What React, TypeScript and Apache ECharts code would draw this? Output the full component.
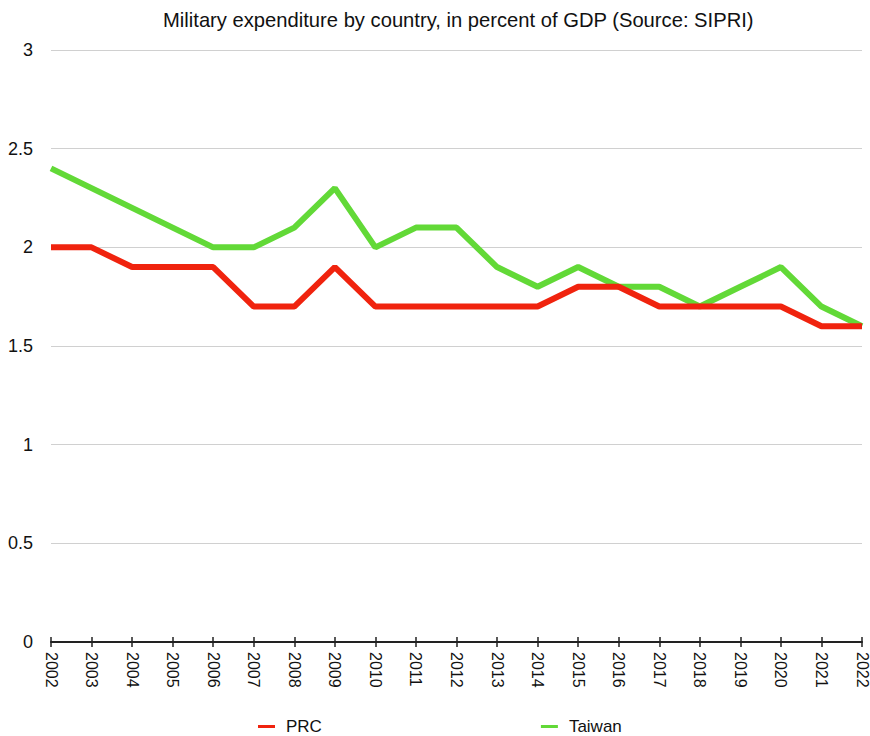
import React, { useEffect, useRef } from "react";
import * as echarts from "echarts";

const years = ["2002","2003","2004","2005","2006","2007","2008","2009","2010","2011","2012","2013","2014","2015","2016","2017","2018","2019","2020","2021","2022"];
const prc = [2.0,2.0,1.9,1.9,1.9,1.7,1.7,1.9,1.7,1.7,1.7,1.7,1.7,1.8,1.8,1.7,1.7,1.7,1.7,1.6,1.6];
const taiwan = [2.4,2.3,2.2,2.1,2.0,2.0,2.1,2.3,2.0,2.1,2.1,1.9,1.8,1.9,1.8,1.8,1.7,1.8,1.9,1.7,1.6];

const FONT = "Liberation Sans, Arial, Helvetica, sans-serif";

export default function App() {
  const ref = useRef<HTMLDivElement>(null);
  useEffect(() => {
    const chart = echarts.init(ref.current!, null, { renderer: "svg" });
    chart.setOption({
      animation: false,
      backgroundColor: "#ffffff",
      title: {
        text: "Military expenditure by country, in percent of GDP (Source: SIPRI)",
        left: 158,
        top: 5,
        textStyle: { fontFamily: FONT, fontSize: 20.2, fontWeight: "normal", color: "#111" },
      },
      legend: {
        top: 713,
        left: 253,
        itemGap: 219,
        itemWidth: 17,
        itemHeight: 3,
        icon: "rect",
        textStyle: { fontFamily: FONT, fontSize: 17, color: "#111", padding: [0, 0, 0, 6] },
        data: ["PRC", "Taiwan"],
      },
      grid: { left: 51, right: 8, top: 50, bottom: 94, containLabel: false },
      xAxis: [
        {
          type: "category",
          data: years,
          boundaryGap: false,
          axisLine: { lineStyle: { color: "#222", width: 2 } },
          axisTick: { show: true, length: 5, lineStyle: { color: "#222", width: 1.5 } },
          axisLabel: { rotate: -90, fontFamily: FONT, fontSize: 16, color: "#111", margin: 10 },
          splitLine: { show: false },
        },
        {
          type: "category",
          data: years,
          position: "bottom",
          boundaryGap: false,
          axisLine: { show: false },
          axisTick: { show: true, inside: true, length: 5, lineStyle: { color: "#222", width: 1.5 } },
          axisLabel: { show: false },
          splitLine: { show: false },
        },
      ],
      yAxis: {
        type: "value",
        min: 0,
        max: 3,
        interval: 0.5,
        axisLine: { show: false },
        axisTick: { show: false },
        axisLabel: { fontFamily: FONT, fontSize: 18, color: "#111", margin: 18 },
        splitLine: { lineStyle: { color: "#d0d0d0", width: 1 } },
      },
      series: [
        {
          name: "PRC",
          type: "line",
          data: prc,
          symbol: "none",
          lineStyle: { color: "#f0230e", width: 6 },
          itemStyle: { color: "#f0230e" },
        },
        {
          name: "Taiwan",
          type: "line",
          data: taiwan,
          symbol: "none",
          z: 1,
          lineStyle: { color: "#62d937", width: 6 },
          itemStyle: { color: "#62d937" },
        },
      ],
    });
    return () => chart.dispose();
  }, []);
  return <div ref={ref} style={{ width: 870, height: 736, position: "absolute", left: 0, top: 0 }} />;
}
